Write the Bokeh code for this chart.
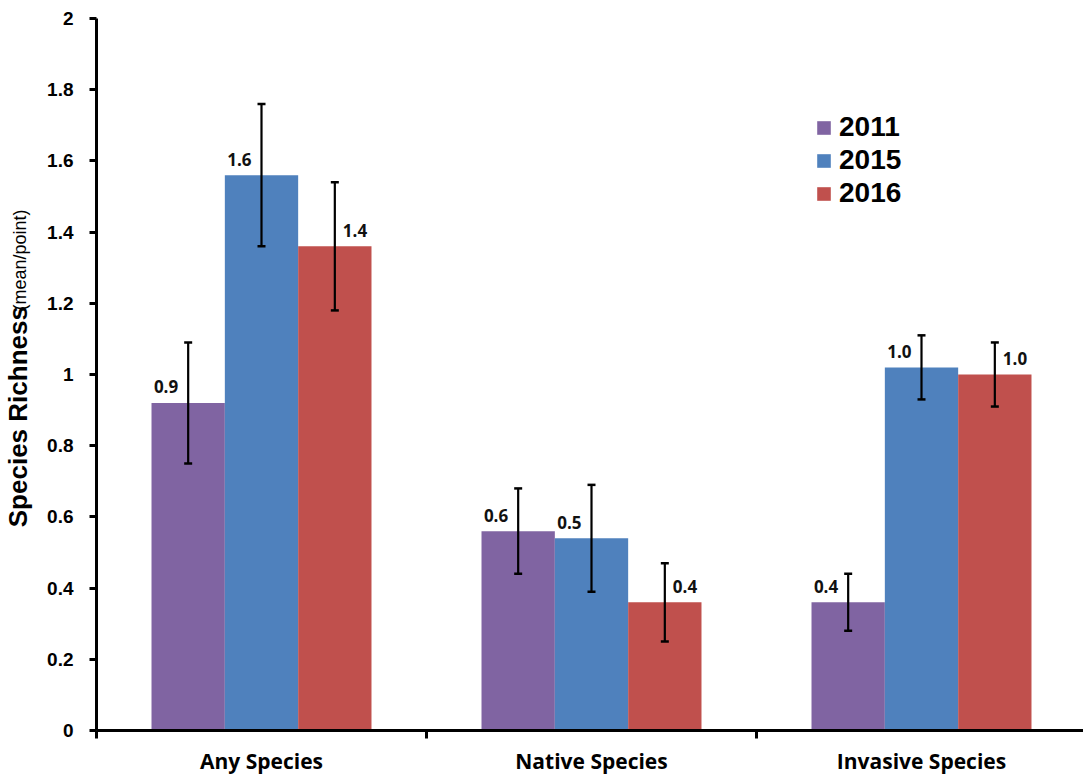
import math
from bokeh.plotting import figure
from bokeh.layouts import row
from bokeh.models import (Range1d, FixedTicker, Whisker, TeeHead, ColumnDataSource,
                          Legend, LegendItem)
from bokeh.core.properties import value
from bokeh.embed import file_html
from bokeh.resources import INLINE

# ---------------- data ----------------
categories = ["Any Species", "Native Species", "Invasive Species"]
years = ["2011", "2015", "2016"]
colors = ["#8064A2", "#4F81BD", "#C0504D"]

means_2011 = [0.92, 0.56, 0.36]
means_2015 = [1.56, 0.54, 1.02]
means_2016 = [1.36, 0.36, 1.00]

err_2011 = [0.17, 0.12, 0.08]
err_2015 = [0.20, 0.15, 0.09]
err_2016 = [0.18, 0.11, 0.09]

labels_2011 = ["0.9", "0.6", "0.4"]
labels_2015 = ["1.6", "0.5", "1.0"]
labels_2016 = ["1.4", "0.4", "1.0"]

y_ticks = [0, 0.2, 0.4, 0.6, 0.8, 1, 1.2, 1.4, 1.6, 1.8, 2]
y_tick_labels = ["0", "0.2", "0.4", "0.6", "0.8", "1", "1.2", "1.4", "1.6", "1.8", "2"]

y_title_main = "Species Richness"
y_title_sub = "(mean/point)"

series_means = [means_2011, means_2015, means_2016]
series_errs = [err_2011, err_2015, err_2016]
series_labels = [labels_2011, labels_2015, labels_2016]

# ---------------- layout constants ----------------
W, H = 1083, 777
title_w = 40               # narrow strip for the y axis title
top, bottom = 18, 47
frame_left = 96            # page x of the y axis
cat_px = 330.0
frame_h = H - top - bottom
px_per_unit = frame_h / 2.0

# ---------------- main figure ----------------
main_w = W - title_w
left = frame_left - title_w
frame_w = main_w - left
p = figure(width=main_w, height=H,
           x_range=Range1d(0, frame_w / cat_px), y_range=Range1d(0, 2),
           output_backend="svg", toolbar_location=None,
           min_border_left=left, min_border_right=0, min_border_top=top,
           min_border_bottom=bottom)
p.outline_line_color = None
p.xgrid.visible = False
p.ygrid.visible = False
p.background_fill_color = "white"

bar_w = 0.2222
offsets = [-bar_w, 0.0, bar_w]

legend_items = []
for k, (yr, col, means, errs, labs) in enumerate(zip(years, colors, series_means, series_errs, series_labels)):
    xs = [i + 0.5 + offsets[k] for i in range(len(categories))]
    src = ColumnDataSource(dict(x=xs, top=means,
                                upper=[m + e for m, e in zip(means, errs)],
                                lower=[m - e for m, e in zip(means, errs)],
                                lab=labs))
    r = p.vbar(x="x", top="top", bottom=0, width=bar_w, source=src,
               fill_color=col, line_color=None)
    legend_items.append(LegendItem(label=yr, renderers=[r]))
    w = Whisker(base="x", upper="upper", lower="lower", source=src,
                line_color="black", line_width=2.2, level="annotation",
                upper_head=TeeHead(size=8, line_width=2.5, line_color="black"),
                lower_head=TeeHead(size=8, line_width=2.5, line_color="black"))
    p.add_layout(w)
    if k < 2:
        align, xo = "right", -10
    else:
        align, xo = "left", 8
    p.text(x="x", y="top", text="lab", source=src, text_align=align,
           text_baseline="middle", x_offset=xo, y_offset=-16,
           text_font=value("Open Sans"), text_font_style="bold",
           text_font_size="17px", text_color="#111111")

# ---------------- axes ----------------
ya = p.yaxis[0]
ya.ticker = FixedTicker(ticks=y_ticks)
ya.major_label_overrides = {t: l for t, l in zip(y_ticks, y_tick_labels)}
ya.axis_line_width = 3
ya.axis_line_color = "black"
ya.major_tick_line_width = 3
ya.major_tick_out = 7
ya.major_tick_in = 0
ya.minor_tick_line_color = None
ya.major_label_text_font = "Liberation Sans"
ya.major_label_text_font_style = "bold"
ya.major_label_text_font_size = "19px"
ya.major_label_text_color = "black"
ya.major_label_standoff = 16

xa = p.xaxis[0]
xa.ticker = FixedTicker(ticks=[i + 0.5 for i in range(len(categories))],
                        minor_ticks=list(range(len(categories) + 1)))
xa.major_label_overrides = {i + 0.5: c for i, c in enumerate(categories)}
xa.axis_line_width = 3
xa.axis_line_color = "black"
xa.major_tick_line_color = None
xa.major_tick_out = 8
xa.major_tick_in = 0
xa.minor_tick_line_color = "black"
xa.minor_tick_line_width = 3
xa.minor_tick_out = 8
xa.minor_tick_in = 0
xa.major_label_text_font = "Open Sans"
xa.major_label_text_font_style = "bold"
xa.major_label_text_font_size = "21px"
xa.major_label_text_color = "black"
xa.major_label_standoff = 8

# legend
legend = Legend(items=legend_items, location=(719, 521),
                glyph_width=17, glyph_height=17, label_standoff=7,
                label_text_font="Liberation Sans", label_text_font_style="bold",
                label_text_font_size="28px", label_text_color="black",
                label_height=27, spacing=1, padding=0, margin=0,
                border_line_color=None, background_fill_alpha=0)
p.add_layout(legend)

# ---------------- y-axis title strip (shares the value scale) ----------------
y_lo = -bottom / px_per_unit
y_hi = 2 + top / px_per_unit
t = figure(width=title_w, height=H, x_range=Range1d(0, title_w),
           y_range=Range1d(y_lo, y_hi), x_axis_type=None, y_axis_type=None,
           output_backend="svg", toolbar_location=None,
           min_border_left=0, min_border_right=0, min_border_top=0,
           min_border_bottom=0)
t.outline_line_color = None
t.xgrid.visible = False
t.ygrid.visible = False
t.text(x=[17], y=[0.83], text=[y_title_main], angle=math.pi / 2,
       text_align="center", text_baseline="middle",
       text_font=value("Liberation Sans"), text_font_style="bold",
       text_font_size="26px", text_color="black")
t.text(x=[19], y=[1.31], text=[y_title_sub], angle=math.pi / 2,
       text_align="center", text_baseline="middle",
       text_font=value("Liberation Sans"), text_font_style="normal",
       text_font_size="18px", text_color="black")

layout = row(t, p)
open("out.html", "w").write(file_html(layout, INLINE))
